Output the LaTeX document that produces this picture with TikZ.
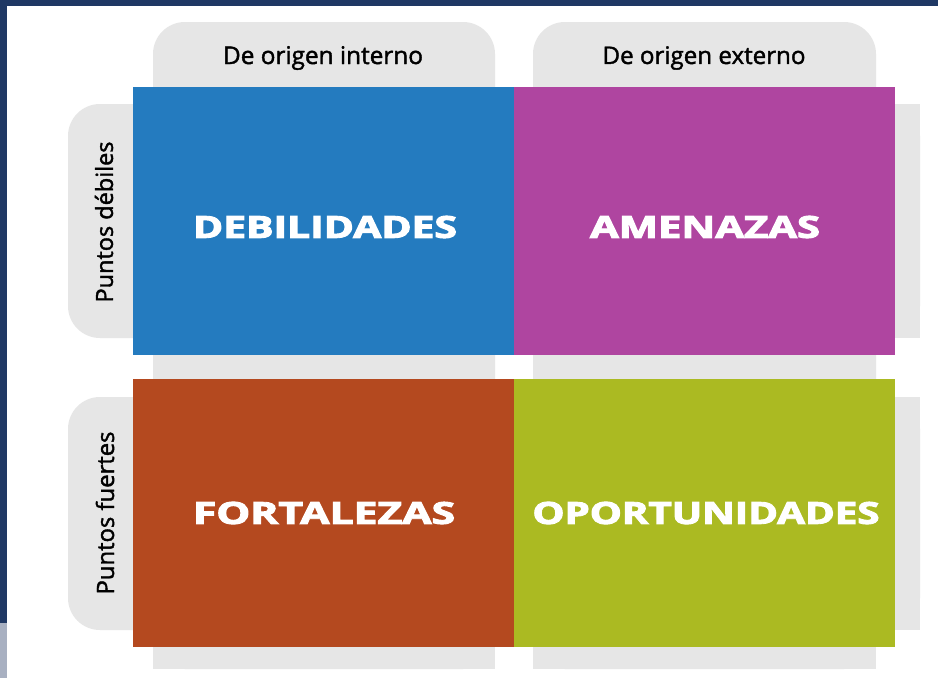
\documentclass[tikz,border=0pt]{standalone}
\usepackage{fontspec}
\setmainfont{Open Sans}
\newfontfamily\semib[FakeBold=1.6]{Open Sans}
\newfontfamily\heavyb[BoldFeatures={FakeBold=3}]{Open Sans}
\usepackage{graphicx}
\definecolor{navy}{HTML}{1F3864}
\definecolor{navylt}{HTML}{A8B0C1}
\definecolor{tabgray}{HTML}{E6E6E6}
\definecolor{qblue}{HTML}{247BBF}
\definecolor{qmag}{HTML}{AF45A0}
\definecolor{qorange}{HTML}{B4491F}
\definecolor{qgreen}{HTML}{ABBA22}
\tikzset{
  tab/.style={fill=tabgray},
  quad/.style={minimum width=381pt, minimum height=268pt, inner sep=0pt, outer sep=0pt, anchor=north west, text=white},
  hdr/.style={inner sep=0pt, text=black, font=\semib},
}
\newcommand{\qlabel}[2]{\resizebox{#1pt}{22pt}{\heavyb\bfseries #2}}
\begin{document}
\begin{tikzpicture}[x=1pt,y=-1pt]
\useasboundingbox (0,0) rectangle (938,678);
\fill[white] (0,0) rectangle (938,678);
% frame
\fill[navy] (0,0) rectangle (938,6);
\fill[navy] (0,0) rectangle (7,623);
\fill[navylt] (0,623) rectangle (7,678);
% gray columns
\fill[tab, rounded corners=32pt] (153,22) rectangle (495,669);
\fill[tab] (153,200) rectangle (495,669);
\fill[tab, rounded corners=32pt] (533,22) rectangle (876,669);
\fill[tab] (533,200) rectangle (876,669);
% gray rows
\fill[tab, rounded corners=32pt] (68,104) rectangle (920,338);
\fill[tab] (400,104) rectangle (920,338);
\fill[tab, rounded corners=32pt] (68,397) rectangle (920,630);
\fill[tab] (400,397) rectangle (920,630);
% quadrants
\node[quad, fill=qblue] (deb) at (133,87) {};
\node[quad, fill=qmag] (ame) at (514,87) {};
\node[quad, fill=qorange] (fort) at (133,379) {};
\node[quad, fill=qgreen] (opo) at (514,379) {};
% quadrant labels
\node[hdr, text=white] (tdeb) at (325,227) {\qlabel{264}{DEBILIDADES}};
\node[hdr, text=white] (tame) at (705,227) {\qlabel{230}{AMENAZAS}};
\node[hdr, text=white] (tfort) at (324,513) {\qlabel{262}{FORTALEZAS}};
\node[hdr, text=white] (topo) at (706,513) {\qlabel{347}{OPORTUNIDADES}};
% headers
\node[hdr] (hint) at (323,58) {\resizebox{200pt}{!}{De origen interno}};
\node[hdr] (hext) at (704,58) {\resizebox{203pt}{!}{De origen externo}};
\node[hdr, rotate=90] (pdeb) at (104,222) {\resizebox{161pt}{!}{Puntos débiles}};
\node[hdr, rotate=90] (pfue) at (105,513) {\resizebox{163pt}{!}{Puntos fuertes}};
\end{tikzpicture}
\end{document}
